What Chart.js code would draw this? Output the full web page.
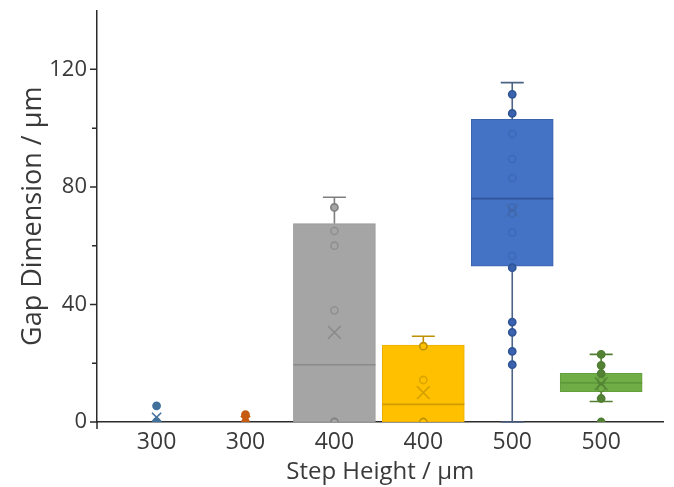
<!DOCTYPE html>
<html>
<head>
<meta charset="utf-8">
<script src="https://cdn.jsdelivr.net/npm/chart.js@4.4.1/dist/chart.umd.min.js"></script>
<style>
  html, body { margin: 0; padding: 0; background: #ffffff; }
  #wrap { width: 674px; height: 487px; position: relative; }
</style>
</head>
<body>
<div id="wrap"><canvas id="c" width="674" height="487"></canvas></div>
<script>
// Step-height groups along the x axis
const categories = ['300', '300', '400', '400', '500', '500'];

// Box statistics per group (µm)
const q1          = [0, 0, 0,    0,    53,    10.3];
const median      = [0, 0, 19.5, 6,    76,    13.3];
const q3          = [0, 0, 67.5, 26.2, 103,   16.6];
const whiskerLow  = [0, 0, 0,    0,    0,     7];
const whiskerHigh = [0, 0, 76.5, 29.2, 115.5, 23];
const means       = [1.6, 0.5, 30.5, 10, 72,  13];

// Individual measurements per group (µm)
const pts300a = [0, 0, 5.5];
const pts300b = [0, 2.5];
const pts400a = [0, 38, 60, 65, 73];
const pts400b = [0, 14.3, 25.8];
const pts500a = [19.5, 24, 30.5, 34, 52.5, 56.5, 64.5, 71, 73, 83, 89.5, 98, 105, 111.5];
const pts500b = [0, 8, 11.5, 14, 16.5, 19.3, 23];
const groupPoints = [pts300a, pts300b, pts400a, pts400b, pts500a, pts500b];

// Y axis tick values
const yMajorTicks = [0, 40, 80, 120];
const yMinorTicks = [20, 60, 100];

// Colours
const fillColors   = ['#5B9BD5', '#ED7D31', '#A5A5A5', '#FFC000', '#4472C4', '#70AD47'];
const edgeColors   = ['#41719C', '#C55A11', '#989898', '#E8AE00', '#3A63AE', '#62A03C'];
const lineColors   = ['#41719C', '#C55A11', '#7F7F7F', '#BF9000', '#4D6386', '#507E32'];
const dotFill      = ['#41719C', '#C55A11', '#A5A5A5', '#FFC000', '#3A62AE', '#548235'];
const dotEdge      = ['#41719C', '#C55A11', '#7F7F7F', '#BF9000', '#2F5597', '#507E32'];
const medianColors = ['#41719C', '#C55A11', '#8A8A8A', '#D09C00', '#2F5597', '#5E9A3A'];

const AXIS = '#2b2b2b';
const TXT = '#3a3a3a';
const FONT = "'Open Sans', 'DejaVu Sans', sans-serif";

function withAlpha(hex, a) {
  const n = parseInt(hex.slice(1), 16);
  return `rgba(${(n >> 16) & 255},${(n >> 8) & 255},${n & 255},${a})`;
}
// marks that fall inside a box are seen through its fill
function insideBox(raw) {
  const i = raw.x;
  return q3[i] > q1[i] && raw.y > q1[i] + 0.5 && raw.y < q3[i] - 0.5;
}

const boxData = categories.map((c, i) => ({ x: i, y: [q1[i], q3[i]] }));

const pointSets = groupPoints.map((arr, i) => ({
  type: 'scatter',
  label: 'pts' + i,
  order: 2,
  data: arr.map(v => ({ x: i, y: v })),
  pointStyle: 'circle',
  pointRadius: 3.6,
  pointBorderWidth: 1.6,
  backgroundColor: ctx => insideBox(ctx.raw) ? 'rgba(0,0,0,0)' : dotFill[i],
  borderColor: ctx => insideBox(ctx.raw) ? withAlpha(dotEdge[i], i === 4 ? 0.3 : 0.55) : dotEdge[i]
}));

const meanSet = {
  type: 'scatter',
  label: 'mean',
  order: 1,
  data: means.map((v, i) => ({ x: i, y: v })),
  pointStyle: 'crossRot',
  pointRadius: categories.map((c, i) => i < 2 ? 6.5 : 9),
  pointBorderWidth: 1.6,
  borderColor: ctx => {
    const i = ctx.raw.x;
    return insideBox(ctx.raw) ? withAlpha(lineColors[i], i === 4 ? 0.3 : 0.7) : lineColors[i];
  },
  backgroundColor: lineColors
};

// Whiskers and caps under the boxes
const whiskerDecor = {
  id: 'whiskerDecor',
  beforeDatasetsDraw(chart) {
    const ctx = chart.ctx, xs = chart.scales.x, ys = chart.scales.y;
    const capPx = 23;
    ctx.save();
    ctx.lineWidth = 1.6;
    categories.forEach((c, i) => {
      const cx = xs.getPixelForValue(i);
      ctx.strokeStyle = lineColors[i];
      ctx.beginPath();
      ctx.moveTo(cx, ys.getPixelForValue(q3[i]));
      ctx.lineTo(cx, ys.getPixelForValue(whiskerHigh[i]));
      ctx.moveTo(cx, ys.getPixelForValue(q1[i]));
      ctx.lineTo(cx, ys.getPixelForValue(whiskerLow[i]));
      if (whiskerHigh[i] > q3[i]) {
        const yy = ys.getPixelForValue(whiskerHigh[i]);
        ctx.moveTo(cx - capPx / 2, yy); ctx.lineTo(cx + capPx / 2, yy);
      }
      if (whiskerLow[i] < q1[i]) {
        const yy = ys.getPixelForValue(whiskerLow[i]);
        ctx.moveTo(cx - capPx / 2, yy); ctx.lineTo(cx + capPx / 2, yy);
      }
      ctx.stroke();
    });
    ctx.restore();
  }
};

// Median lines, drawn right after the boxes
const medianDecor = {
  id: 'medianDecor',
  afterDatasetDraw(chart, args) {
    if (args.index !== 0) return;
    const ctx = chart.ctx, xs = chart.scales.x, ys = chart.scales.y;
    const boxPx = 82;
    ctx.save();
    ctx.lineWidth = 1.6;
    categories.forEach((c, i) => {
      if (q3[i] <= q1[i]) return;
      const cx = xs.getPixelForValue(i);
      const ym = ys.getPixelForValue(median[i]);
      ctx.strokeStyle = medianColors[i];
      ctx.beginPath(); ctx.moveTo(cx - boxPx / 2, ym); ctx.lineTo(cx + boxPx / 2, ym); ctx.stroke();
    });
    ctx.restore();
  }
};

// Axis tick marks (major and minor on y, end mark on x)
const axisMarks = {
  id: 'axisMarks',
  afterDraw(chart) {
    const ctx = chart.ctx, ys = chart.scales.y, area = chart.chartArea;
    ctx.save();
    ctx.strokeStyle = AXIS;
    ctx.lineWidth = 1.5;
    ctx.beginPath();
    yMajorTicks.forEach(v => {
      const y = ys.getPixelForValue(v);
      ctx.moveTo(area.left - 7, y); ctx.lineTo(area.left, y);
    });
    yMinorTicks.forEach(v => {
      const y = ys.getPixelForValue(v);
      ctx.moveTo(area.left - 5, y); ctx.lineTo(area.left, y);
    });
    ctx.moveTo(area.left, area.bottom); ctx.lineTo(area.left, area.bottom + 7);
    ctx.stroke();
    ctx.restore();
  }
};

new Chart(document.getElementById('c'), {
  type: 'bar',
  data: {
    datasets: [
      {
        type: 'bar',
        label: 'box',
        order: 3,
        data: boxData,
        backgroundColor: fillColors,
        borderColor: edgeColors,
        borderWidth: 1,
        borderSkipped: false,
        barThickness: 82,
        grouped: false
      },
      ...pointSets,
      meanSet
    ]
  },
  options: {
    responsive: false,
    animation: false,
    devicePixelRatio: 1,
    layout: { padding: { top: 10, right: 9, left: 0, bottom: 0 } },
    plugins: { legend: { display: false }, tooltip: { enabled: false } },
    scales: {
      x: {
        type: 'linear',
        offset: false,
        min: -0.67,
        max: 5.7,
        afterBuildTicks: s => { s.ticks = categories.map((c, i) => ({ value: i })); },
        afterFit: s => { s.height = 65; s.paddingLeft = 0; s.paddingRight = 0; },
        grid: { display: false, drawTicks: false, offset: false },
        border: { display: true, color: AXIS, width: 1.5 },
        ticks: {
          padding: 7,
          autoSkip: false,
          maxRotation: 0,
          color: TXT,
          font: { family: FONT, size: 23 },
          callback: v => categories[v] ?? ''
        },
        title: {
          display: true,
          text: 'Step Height / µm',
          color: TXT,
          font: { family: FONT, size: 24 },
          padding: { top: -7, bottom: 0 }
        }
      },
      y: {
        type: 'linear',
        min: 0,
        max: 140,
        afterBuildTicks: s => { s.ticks = yMajorTicks.map(v => ({ value: v })); },
        afterFit: s => { s.width = 97; s.paddingTop = 0; s.paddingBottom = 0; },
        grid: { display: false, drawTicks: false },
        border: { display: true, color: AXIS, width: 1.5 },
        ticks: {
          padding: 10,
          color: TXT,
          font: { family: FONT, size: 22 }
        },
        title: {
          display: true,
          text: 'Gap Dimension / µm',
          color: TXT,
          font: { family: FONT, size: 27 },
          padding: { top: 17, bottom: 0 }
        }
      }
    }
  },
  plugins: [whiskerDecor, medianDecor, axisMarks]
});
</script>
</body>
</html>
